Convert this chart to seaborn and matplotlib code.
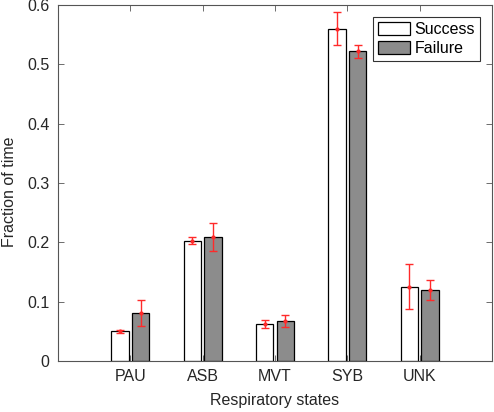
import matplotlib
matplotlib.use("Agg")
import matplotlib.pyplot as plt
import seaborn as sns
import pandas as pd
import numpy as np

categories = ["PAU", "ASB", "MVT", "SYB", "UNK"]
groups = ["Success", "Failure"]
success_mean = [0.050, 0.203, 0.062, 0.560, 0.125]
success_err = [0.003, 0.006, 0.007, 0.028, 0.038]
failure_mean = [0.081, 0.209, 0.068, 0.522, 0.120]
failure_err = [0.022, 0.023, 0.010, 0.011, 0.017]
yticks = [0, 0.1, 0.2, 0.3, 0.4, 0.5, 0.6]
ytick_labels = ["0", "0.1", "0.2", "0.3", "0.4", "0.5", "0.6"]

df = pd.DataFrame({
    "state": categories * 2,
    "group": [groups[0]] * len(categories) + [groups[1]] * len(categories),
    "value": success_mean + failure_mean,
    "err": success_err + failure_err,
})

sns.set_style("white")
plt.rcParams["font.family"] = ["Liberation Sans", "DejaVu Sans"]
txt = "#262626"

fig = plt.figure(figsize=(4.94, 4.12), dpi=100)
ax = fig.add_axes([58 / 494, 51 / 412, 434 / 494, 356 / 412])

sns.barplot(data=df, x="state", y="value", hue="group", order=categories,
            hue_order=groups, palette={"Success": "#ffffff", "Failure": "#8c8c8c"},
            width=0.572, gap=0.16, edgecolor="black", linewidth=0.9,
            errorbar=None, ax=ax, legend=True)

# error bars from bar patch centres
for container, grp in zip(ax.containers, groups):
    sub = df[df["group"] == grp].set_index("state").loc[categories]
    xs = [p.get_x() + p.get_width() / 2 for p in container.patches]
    ax.errorbar(xs, sub["value"].values, yerr=sub["err"].values, fmt=".",
                color="#ff2a2a", ecolor="#ff2a2a", markersize=4,
                elinewidth=1.0, capsize=3, capthick=1.0, zorder=5)

ax.set_xlim(-1, 5)
ax.set_ylim(0, 0.6)
ax.set_yticks(yticks)
ax.set_yticklabels(ytick_labels)
ax.set_xlabel("Respiratory states", fontsize=11.5, color=txt, labelpad=6)
ax.set_ylabel("Fraction of time", fontsize=11.5, color=txt)
ax.yaxis.set_label_coords(-0.095, 0.475)
ax.tick_params(direction="in", length=4, width=0.6, colors="#555555",
               labelcolor=txt, labelsize=11.5, top=True, right=True,
               bottom=True, left=True, pad=6)
for s in ax.spines.values():
    s.set_visible(True)
    s.set_color("#555555")
    s.set_linewidth(0.8)

handles, labels = ax.get_legend_handles_labels()
leg = ax.legend(handles, labels, loc="upper right",
                bbox_to_anchor=(0.972, 0.966), borderaxespad=0,
                fontsize=11.5, frameon=True, fancybox=False,
                edgecolor="black", handlelength=2.0, handleheight=0.9,
                handletextpad=0.3, borderpad=0.3, labelspacing=0.25)
leg.get_frame().set_linewidth(0.8)
for t in leg.get_texts():
    t.set_color("black")

fig.savefig("out.png", dpi=100)
